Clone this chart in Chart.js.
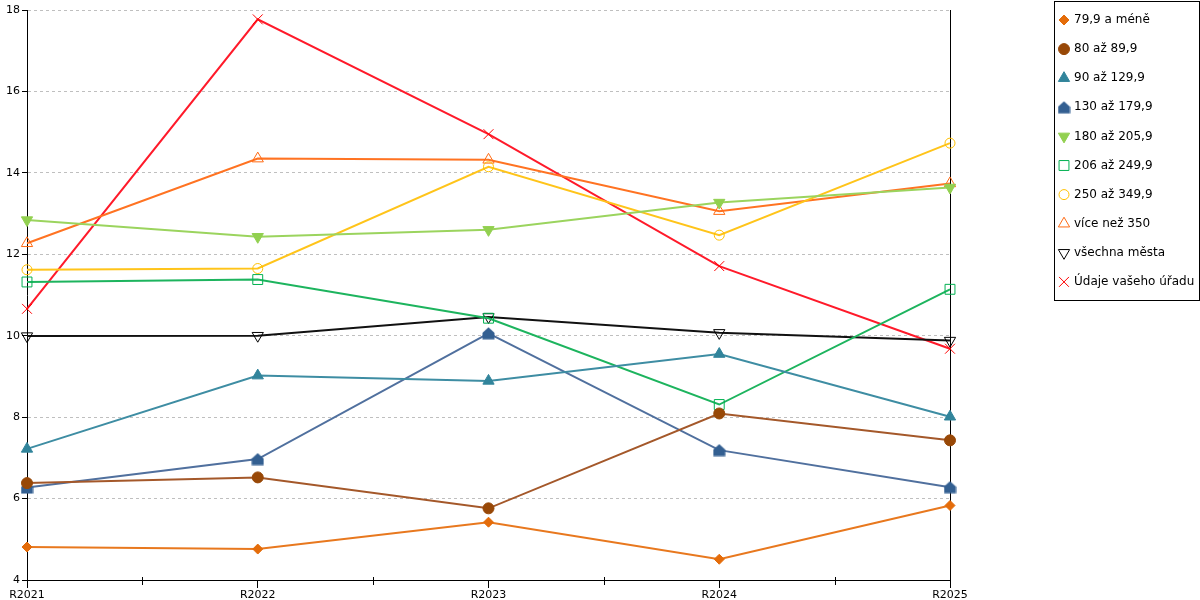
<!DOCTYPE html>
<html>
<head>
<meta charset="utf-8">
<script src="https://cdn.jsdelivr.net/npm/chart.js@4"></script>
<style>
  body { margin: 0; background: #fff; }
  #wrap { width: 1200px; height: 600px; position: relative; }
</style>
</head>
<body>
<div id="wrap"><canvas id="trendChart"></canvas></div>
<script>
const years = ["R2021", "R2022", "R2023", "R2024", "R2025"];

const seriesNames = [
  "79,9 a méně", "80 až 89,9", "90 až 129,9", "130 až 179,9", "180 až 205,9",
  "206 až 249,9", "250 až 349,9", "více než 350", "všechna města", "Údaje vašeho úřadu"
];

const s79 = [4.81, 4.76, 5.42, 4.51, 5.83];
const s80 = [6.38, 6.52, 5.76, 8.09, 7.43];
const s90 = [7.22, 9.02, 8.89, 9.55, 8.01];
const s130 = [6.27, 6.97, 10.06, 7.19, 6.28];
const s180 = [12.84, 12.43, 12.60, 13.27, 13.64];
const s206 = [11.32, 11.38, 10.43, 8.31, 11.14];
const s250 = [11.62, 11.65, 14.15, 12.47, 14.73];
const s350 = [12.27, 14.35, 14.32, 13.06, 13.74];
const allCities = [9.99, 10.00, 10.46, 10.07, 9.88];
const yourOffice = [10.66, 17.77, 14.95, 11.71, 9.68];

const yTicks = [4, 6, 8, 10, 12, 14, 16, 18];

// house-shaped marker (triangle on a square)
function makeHouse(color) {
  const c = document.createElement("canvas");
  c.width = 13; c.height = 13;
  const g = c.getContext("2d");
  g.fillStyle = color;
  g.beginPath();
  g.moveTo(0.5, 6); g.lineTo(6.5, 0.5); g.lineTo(12.5, 6);
  g.lineTo(12.5, 12.5); g.lineTo(0.5, 12.5);
  g.closePath();
  g.fill();
  return c;
}

function ds(label, data, color, style, radius, filled, rotation, lineColor) {
  return {
    label: label,
    data: data,
    borderColor: lineColor || color,
    backgroundColor: color,
    borderWidth: 2,
    pointStyle: style,
    pointRadius: radius,
    pointHoverRadius: radius,
    pointRotation: rotation || 0,
    pointBorderColor: color,
    pointBackgroundColor: filled ? color : "rgba(0,0,0,0)",
    pointBorderWidth: 1,
    tension: 0,
    fill: false,
    markerColor: color,
  };
}

const datasets = [
  ds(seriesNames[0], s79, "#E46C0A", "rectRot", 5, true, 0, "#E8781E"),
  ds(seriesNames[1], s80, "#984807", "circle", 5.5, true, 0, "#A4582A"),
  ds(seriesNames[2], s90, "#31849B", "triangle", 6.5, true, 0, "#3E8DA3"),
  ds(seriesNames[3], s130, "#335F91", makeHouse("#335F91"), 6, true, 0, "#50709E"),
  ds(seriesNames[4], s180, "#92D050", "triangle", 6.5, true, 180, "#9BD45E"),
  ds(seriesNames[5], s206, "#00B050", "rect", 7, false, 0, "#1DB45E"),
  ds(seriesNames[6], s250, "#FFC000", "circle", 5, false, 0, "#FFC41A"),
  ds(seriesNames[7], s350, "#FF6A13", "triangle", 6.5, false, 0, "#FF7322"),
  ds(seriesNames[8], allCities, "#000000", "triangle", 6.5, false, 180, "#111111"),
  ds(seriesNames[9], yourOffice, "#FF0000", "crossRot", 7, false, 0, "#FF1A2A"),
];

const framePlugin = {
  id: "frame",
  beforeDatasetsDraw(chart) {
    const ctx = chart.ctx;
    const a = chart.chartArea;
    const xs = chart.scales.x;
    ctx.save();
    ctx.strokeStyle = "#000";
    ctx.lineWidth = 1;
    ctx.beginPath();
    ctx.moveTo(Math.round(a.right) + 0.5, a.top);
    ctx.lineTo(Math.round(a.right) + 0.5, a.bottom);
    // minor ticks between categories
    for (let i = 0; i < years.length - 1; i++) {
      const px = Math.round(xs.getPixelForValue(i + 0.5)) + 0.5;
      ctx.moveTo(px, a.bottom - 3);
      ctx.lineTo(px, a.bottom + 5);
    }
    ctx.stroke();
    ctx.restore();
  },
  afterDraw(chart) {
    const ctx = chart.ctx;
    const left = 1054.5, top = 1.5, right = 1199.5, bottom = 300.5;
    ctx.save();
    ctx.strokeStyle = "#000";
    ctx.lineWidth = 1;
    ctx.strokeRect(left, top, right - left, bottom - top);
    ctx.font = "12px 'DejaVu Sans'";
    ctx.textBaseline = "middle";
    chart.data.datasets.forEach((d, i) => {
      const y = 20 + i * 29.1;
      ctx.fillStyle = d.pointBackgroundColor;
      ctx.strokeStyle = d.markerColor;
      ctx.lineWidth = 1;
      Chart.helpers.drawPoint(ctx, {
        pointStyle: d.pointStyle,
        rotation: d.pointRotation,
        radius: d.pointRadius,
        borderWidth: 1,
      }, 1064, y);
      ctx.fillStyle = "#000";
      ctx.fillText(d.label, 1074, y);
    });
    ctx.restore();
  },
};

const ctx = document.getElementById("trendChart").getContext("2d");
new Chart(ctx, {
  type: "line",
  data: { labels: years, datasets: datasets },
  options: {
    responsive: true,
    maintainAspectRatio: false,
    animation: false,
    layout: { padding: { top: 10, right: 250, left: 0, bottom: 0 } },
    plugins: {
      legend: { display: false },
      tooltip: { enabled: false },
    },
    scales: {
      x: {
        offset: false,
        afterFit: (s) => { s.height = 20; },
        grid: {
          drawOnChartArea: false,
          drawTicks: true,
          tickLength: 8,
          tickColor: "#000",
        },
        border: { color: "#000", width: 1 },
        ticks: {
          color: "#000",
          padding: 1,
          maxRotation: 0,
          font: { family: "'DejaVu Sans'", size: 11 },
        },
      },
      y: {
        min: 4,
        max: 18,
        afterFit: (s) => { s.width = 27; },
        afterBuildTicks: (s) => { s.ticks = yTicks.map((v) => ({ value: v })); },
        grid: {
          color: "#BFBFBF",
          drawTicks: true,
          tickLength: 5,
          tickColor: "#000",
          tickBorderDash: [0, 0],
        },
        border: { color: "#000", width: 1, dash: [3, 3] },
        ticks: {
          color: "#000",
          padding: 2,
          font: { family: "'DejaVu Sans'", size: 11 },
        },
      },
    },
  },
  plugins: [framePlugin],
});
</script>
</body>
</html>
